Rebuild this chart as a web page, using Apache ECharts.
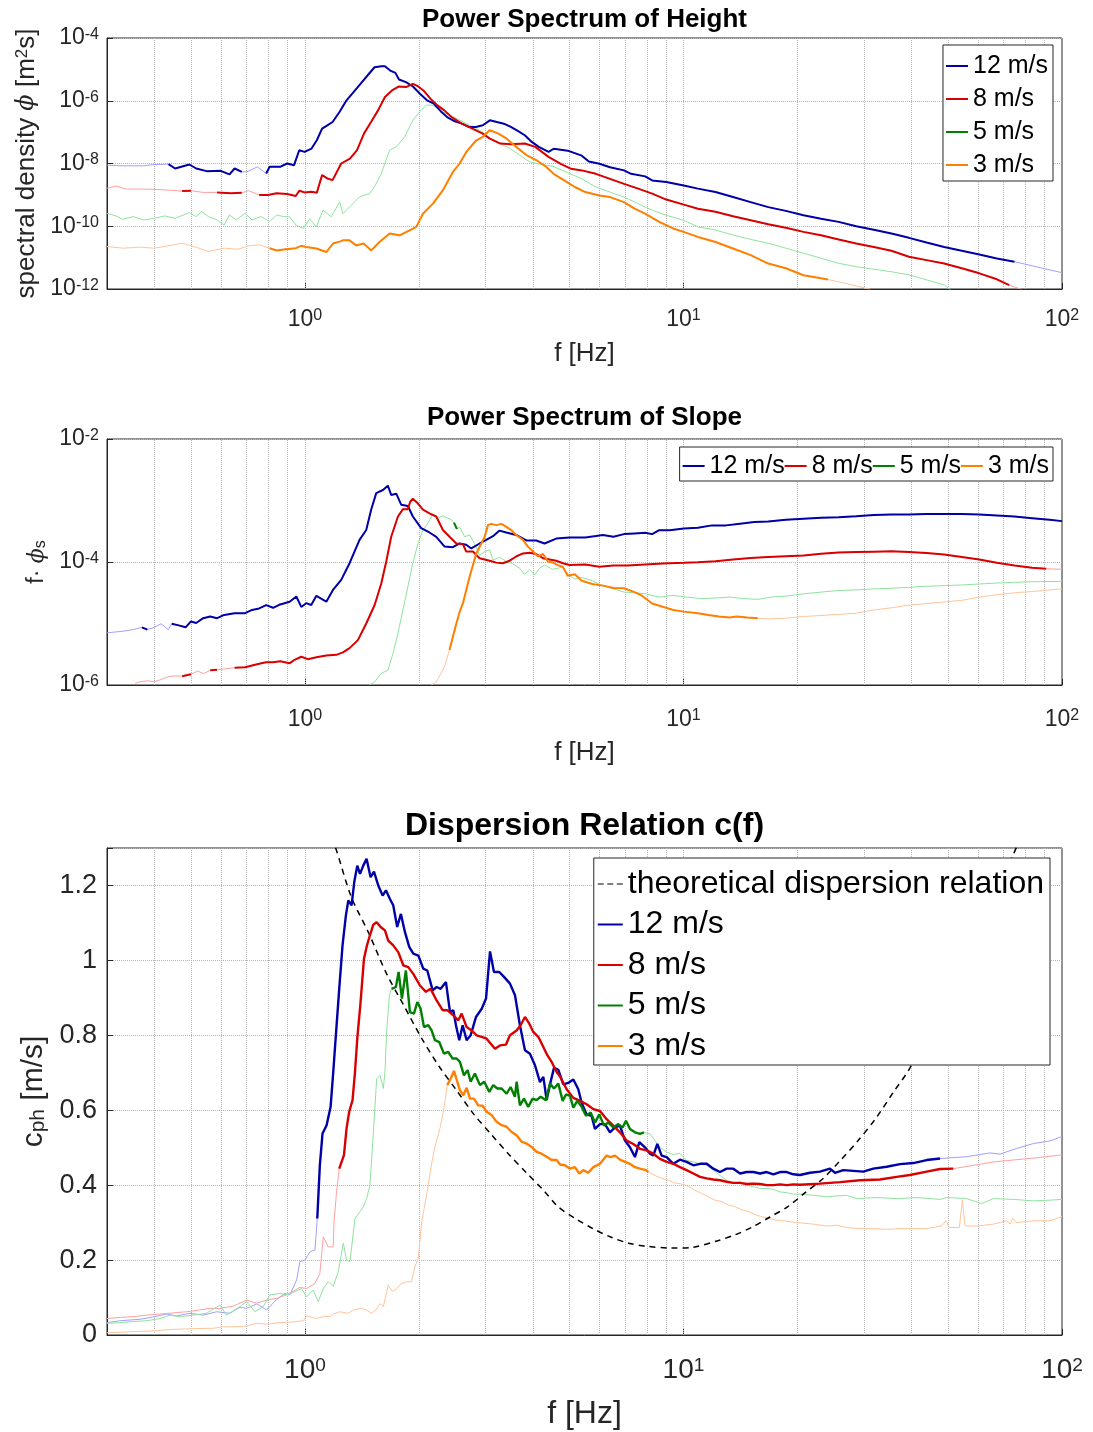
<!DOCTYPE html>
<html>
<head>
<meta charset="UTF-8">
<title>Wave spectra and dispersion relation</title>
<script src="https://cdn.jsdelivr.net/npm/echarts@6/dist/echarts.min.js"></script>
<style>
  html, body { margin: 0; background: #fff; }
  #chart { width: 1093px; height: 1432px; }
</style>
</head>
<body>
<div id="chart"></div>
<script>
// wind speeds shown in all three panels
const speeds = ['12 m/s', '8 m/s', '5 m/s', '3 m/s'];
const theoryName = 'theoretical dispersion relation';

// frequencies of the dotted vertical grid lines (Hz)
const gridFreqs = [0.4, 0.5, 0.6, 0.7, 0.8, 0.9, 1, 2, 3, 4, 5, 6, 7, 8, 9, 10, 20, 30, 40, 50, 60, 70, 80, 90];

// ---- Power spectrum of height: [f (Hz), phi (m^2 s)] ----
const height12 = [[0.300,8.85e-9],[0.330,8.43e-9],[0.375,8.43e-9],[0.400,9.29e-9],[0.436,9.53e-9],[0.454,6.93e-9],[0.495,9.29e-9],[0.516,6.93e-9],[0.550,5.71e-9],[0.599,5.85e-9],[0.632,4.48e-9],[0.652,6.93e-9],[0.681,5.43e-9],[0.703,5.43e-9],[0.749,7.83e-9],[0.790,4.82e-9],[0.807,7.83e-9],[0.860,7.83e-9],[0.897,1.0e-8],[0.936,8.85e-9],[0.966,2.65e-8],[0.998,2.34e-8],[1.041,2.99e-8],[1.075,5.51e-8],[1.110,1.29e-7],[1.146,1.65e-7],[1.183,2.10e-7],[1.234,4.37e-7],[1.288,1.03e-6],[1.344,1.88e-6],[1.402,3.47e-6],[1.463,6.37e-6],[1.527,1.17e-5],[1.593,1.26e-5],[1.627,1.26e-5],[1.680,9.18e-6],[1.734,7.74e-6],[1.772,4.75e-6],[1.849,3.92e-6],[1.929,2.85e-6],[2.013,1.67e-6],[2.101,1.03e-6],[2.192,8.04e-7],[2.287,4.58e-7],[2.387,2.88e-7],[2.489,2.21e-7],[2.598,1.86e-7],[2.711,1.46e-7],[2.828,1.46e-7],[2.951,1.65e-7],[3.080,2.38e-7],[3.213,2.10e-7],[3.353,1.86e-7],[3.499,1.46e-7],[3.650,1.09e-7],[3.809,7.94e-8],[3.975,4.88e-8],[4.147,3.38e-8],[4.402,2.34e-8],[4.541,2.95e-8],[4.946,2.57e-8],[5.387,1.78e-8],[5.623,1.15e-8],[5.997,9.77e-9],[6.396,7.59e-9],[6.966,6.03e-9],[7.270,4.68e-9],[7.920,3.89e-9],[8.266,2.88e-9],[9.005,2.57e-9],[10.02,2.0e-9],[10.92,1.58e-9],[12.15,1.23e-9],[13.52,8.51e-10],[15.05,5.89e-10],[16.75,4.07e-10],[18.64,3.09e-10],[20.75,2.24e-10],[23.09,1.74e-10],[25.70,1.38e-10],[28.60,1.0e-10],[31.83,7.76e-11],[35.42,5.89e-11],[39.42,4.27e-11],[43.87,3.02e-11],[48.83,2.19e-11],[54.34,1.66e-11],[60.48,1.26e-11],[67.30,9.33e-12],[74.90,7.41e-12],[100,3.31e-12]];
const height8 = [[0.300,1.61e-9],[0.3166,1.91e-9],[0.3374,1.53e-9],[0.3674,1.53e-9],[0.400,1.50e-9],[0.4355,1.42e-9],[0.474,1.32e-9],[0.500,1.36e-9],[0.5385,1.20e-9],[0.5864,1.20e-9],[0.6387,1.12e-9],[0.681,1.17e-9],[0.710,1.36e-9],[0.757,9.89e-10],[0.798,9.89e-10],[0.842,1.12e-9],[0.897,1.06e-9],[0.946,9.18e-10],[0.966,1.36e-9],[0.998,1.20e-9],[1.041,1.26e-9],[1.075,1.17e-9],[1.110,4.27e-9],[1.146,3.34e-9],[1.183,2.96e-9],[1.247,1.0e-8],[1.315,1.44e-8],[1.373,2.65e-8],[1.432,8.95e-8],[1.495,2.10e-7],[1.560,4.93e-7],[1.627,1.31e-6],[1.698,2.13e-6],[1.772,2.85e-6],[1.849,2.72e-6],[1.929,3.47e-6],[1.992,2.85e-6],[2.056,2.13e-6],[2.145,1.16e-6],[2.239,7.11e-7],[2.335,4.93e-7],[2.438,3.03e-7],[2.598,1.86e-7],[2.769,1.29e-7],[2.951,8.95e-8],[3.080,6.22e-8],[3.283,4.32e-8],[3.499,4.11e-8],[3.809,4.32e-8],[4.060,3.38e-8],[4.402,1.63e-8],[4.740,9.77e-9],[5.051,6.76e-9],[5.387,6.03e-9],[5.870,4.68e-9],[6.396,3.24e-9],[6.966,2.24e-9],[7.590,1.58e-9],[8.266,1.10e-9],[9.005,7.08e-10],[10.02,4.90e-10],[10.92,3.63e-10],[12.15,2.88e-10],[13.52,2.09e-10],[15.05,1.55e-10],[16.75,1.15e-10],[18.64,8.91e-11],[20.75,6.61e-11],[23.09,5.13e-11],[25.70,3.80e-11],[28.60,2.82e-11],[31.83,2.19e-11],[35.42,1.66e-11],[39.42,1.07e-11],[43.87,8.32e-12],[48.83,6.46e-12],[54.34,4.57e-12],[60.48,3.16e-12],[67.30,2.04e-12],[72.55,1.32e-12],[78.18,9.77e-13]];
const height5 = [[0.300,2.59e-10],[0.3166,2.13e-10],[0.330,1.67e-10],[0.352,2.03e-10],[0.375,1.59e-10],[0.400,1.79e-10],[0.426,2.13e-10],[0.454,1.79e-10],[0.495,2.72e-10],[0.516,2.03e-10],[0.533,2.92e-10],[0.556,2.03e-10],[0.586,1.59e-10],[0.612,1.10e-10],[0.632,2.29e-10],[0.659,1.59e-10],[0.695,2.59e-10],[0.725,1.59e-10],[0.765,2.03e-10],[0.807,1.41e-10],[0.842,2.29e-10],[0.878,2.03e-10],[0.911,2.0e-10],[0.949,1.07e-10],[0.992,8.51e-11],[1.029,1.74e-10],[1.072,9.55e-11],[1.116,3.24e-10],[1.174,2.0e-10],[1.235,6.03e-10],[1.260,2.51e-10],[1.326,4.68e-10],[1.394,8.71e-10],[1.482,1.10e-9],[1.528,1.82e-9],[1.591,4.79e-9],[1.674,2.69e-8],[1.743,3.39e-8],[1.834,7.08e-8],[1.929,2.40e-7],[2.009,4.47e-7],[2.092,7.24e-7],[2.179,7.24e-7],[2.269,5.01e-7],[2.411,3.47e-7],[2.512,2.75e-7],[2.615,2.14e-7],[2.723,1.66e-7],[2.894,1.15e-7],[3.076,6.31e-8],[3.269,4.37e-8],[3.475,3.02e-8],[3.693,1.86e-8],[3.924,1.12e-8],[4.169,9.55e-9],[4.519,8.13e-9],[5.0,4.79e-9],[5.387,3.24e-9],[5.870,1.78e-9],[6.396,1.23e-9],[6.966,8.51e-10],[7.590,5.25e-10],[8.266,3.24e-10],[9.005,2.24e-10],[10.02,1.55e-10],[10.92,9.55e-11],[12.15,7.59e-11],[13.52,5.25e-11],[15.05,3.80e-11],[16.75,2.88e-11],[18.64,2.0e-11],[20.75,1.38e-11],[23.09,9.55e-12],[25.70,6.61e-12],[28.60,5.13e-12],[31.83,4.27e-12],[35.42,3.55e-12],[39.42,2.82e-12],[43.87,1.95e-12],[48.83,1.35e-12],[50.95,8.91e-13]];
const height3 = [[0.300,2.26e-11],[0.330,2.0e-11],[0.367,2.15e-11],[0.400,2.0e-11],[0.4355,2.38e-11],[0.474,2.88e-11],[0.516,2.15e-11],[0.556,1.57e-11],[0.612,2.0e-11],[0.666,1.86e-11],[0.710,2.38e-11],[0.757,2.55e-11],[0.807,2.0e-11],[0.842,1.69e-11],[0.888,1.86e-11],[0.946,2.0e-11],[0.977,2.38e-11],[1.008,2.19e-11],[1.072,1.95e-11],[1.139,1.51e-11],[1.186,2.82e-11],[1.235,3.24e-11],[1.260,3.55e-11],[1.312,3.55e-11],[1.366,2.45e-11],[1.429,2.82e-11],[1.497,1.70e-11],[1.574,3.16e-11],[1.674,5.89e-11],[1.778,5.13e-11],[1.890,7.41e-11],[1.968,9.55e-11],[2.050,2.51e-10],[2.179,5.25e-10],[2.315,1.41e-9],[2.460,5.37e-9],[2.563,1.0e-8],[2.669,2.34e-8],[2.836,5.50e-8],[2.953,7.08e-8],[3.076,1.15e-7],[3.236,9.12e-8],[3.404,6.31e-8],[3.614,3.39e-8],[3.846,1.86e-8],[4.083,1.29e-8],[4.342,7.76e-9],[4.539,4.68e-9],[4.842,2.88e-9],[5.162,1.78e-9],[5.506,1.23e-9],[5.997,9.55e-10],[6.396,8.51e-10],[6.966,5.89e-10],[7.427,3.63e-10],[7.920,2.51e-10],[8.628,1.38e-10],[9.397,8.51e-11],[10.0,6.61e-11],[10.92,4.57e-11],[12.15,3.16e-11],[13.52,1.95e-11],[15.05,1.20e-11],[16.75,6.46e-12],[18.64,4.57e-12],[20.75,2.75e-12],[23.09,2.19e-12],[24.10,2.0e-12],[26.83,1.51e-12],[31.16,9.77e-13]];

// frequency ranges (Hz) where each estimate is drawn as a strong line
const height12Valid = [[0.43, 0.46], [0.49, 0.52], [0.54, 0.70], [0.78, 75]];
const height8Valid = [[0.47, 0.52], [0.58, 0.70], [0.75, 72.6]];
const height5Valid = [];
const height3Valid = [[0.78, 24.2]];

// ---- Power spectrum of slope: [f (Hz), f * phi_s] ----
const slope12 = [[0.300,7.05e-6],[0.330,7.48e-6],[0.352,7.96e-6],[0.371,8.67e-6],[0.3835,7.96e-6],[0.400,8.67e-6],[0.417,9.91e-6],[0.4355,7.96e-6],[0.4448,9.91e-6],[0.464,9.33e-6],[0.484,8.67e-6],[0.500,1.08e-5],[0.516,1.02e-5],[0.5385,1.22e-5],[0.562,1.30e-5],[0.586,1.22e-5],[0.612,1.38e-5],[0.652,1.47e-5],[0.695,1.47e-5],[0.725,1.66e-5],[0.757,1.76e-5],[0.790,1.99e-5],[0.824,1.80e-5],[0.860,2.04e-5],[0.911,2.26e-5],[0.949,2.75e-5],[0.978,1.86e-5],[1.008,2.14e-5],[1.039,2.0e-5],[1.072,2.82e-5],[1.139,2.26e-5],[1.186,3.51e-5],[1.247,5.13e-5],[1.312,9.55e-5],[1.394,2.29e-4],[1.452,3.31e-4],[1.496,7.08e-4],[1.543,1.32e-3],[1.607,1.48e-3],[1.656,1.74e-3],[1.690,1.23e-3],[1.743,1.29e-3],[1.797,8.51e-4],[1.871,8.13e-4],[1.928,5.50e-4],[2.028,3.55e-4],[2.133,3.02e-4],[2.223,2.57e-4],[2.339,1.78e-4],[2.460,1.74e-4],[2.563,2.0e-4],[2.667,1.91e-4],[2.751,1.66e-4],[2.894,2.0e-4],[3.013,2.29e-4],[3.139,2.63e-4],[3.266,3.24e-4],[3.404,3.02e-4],[3.614,2.75e-4],[3.846,2.24e-4],[4.083,2.24e-4],[4.295,2.0e-4],[4.613,2.40e-4],[5.0,2.51e-4],[5.506,2.51e-4],[5.870,2.64e-4],[6.127,2.74e-4],[6.531,2.58e-4],[6.966,2.84e-4],[7.427,2.91e-4],[7.920,2.98e-4],[8.266,2.84e-4],[8.628,3.29e-4],[9.200,3.29e-4],[10.02,3.49e-4],[10.92,3.62e-4],[11.89,3.94e-4],[12.96,3.94e-4],[14.11,4.19e-4],[15.38,4.46e-4],[16.75,4.57e-4],[18.64,4.85e-4],[20.75,5.04e-4],[23.09,5.22e-4],[25.70,5.35e-4],[28.60,5.55e-4],[31.83,5.83e-4],[35.42,5.90e-4],[39.42,5.90e-4],[43.87,6.04e-4],[48.83,6.04e-4],[54.34,6.04e-4],[60.48,5.90e-4],[67.30,5.69e-4],[74.90,5.48e-4],[83.37,5.16e-4],[92.80,4.85e-4],[100,4.62e-4]];
const slope8 = [[0.356,1.06e-6],[0.367,1.13e-6],[0.3835,1.17e-6],[0.400,1.13e-6],[0.417,1.23e-6],[0.4355,1.36e-6],[0.454,1.41e-6],[0.474,1.39e-6],[0.500,1.50e-6],[0.5215,1.69e-6],[0.5385,1.53e-6],[0.562,1.73e-6],[0.586,1.77e-6],[0.6185,1.84e-6],[0.652,1.91e-6],[0.695,1.95e-6],[0.725,2.08e-6],[0.757,2.21e-6],[0.790,2.35e-6],[0.824,2.35e-6],[0.860,2.44e-6],[0.911,2.25e-6],[0.939,2.57e-6],[0.978,2.88e-6],[1.018,2.63e-6],[1.072,2.82e-6],[1.139,3.02e-6],[1.210,3.09e-6],[1.260,3.39e-6],[1.312,3.98e-6],[1.380,5.37e-6],[1.452,1.0e-5],[1.528,2.0e-5],[1.591,4.47e-5],[1.640,1.02e-4],[1.690,2.57e-4],[1.761,5.50e-4],[1.815,7.24e-4],[1.871,7.24e-4],[1.897,9.55e-4],[1.928,1.07e-3],[1.989,8.91e-4],[2.050,7.08e-4],[2.133,6.17e-4],[2.223,5.50e-4],[2.315,3.31e-4],[2.410,2.57e-4],[2.512,2.0e-4],[2.615,1.95e-4],[2.667,1.48e-4],[2.779,1.48e-4],[2.894,1.15e-4],[3.076,1.05e-4],[3.203,9.77e-5],[3.334,9.55e-5],[3.475,1.05e-4],[3.614,1.23e-4],[3.767,1.38e-4],[3.926,1.41e-4],[4.083,1.35e-4],[4.256,1.15e-4],[4.426,1.10e-4],[4.613,1.05e-4],[4.805,9.55e-5],[5.0,8.91e-5],[5.506,9.12e-5],[5.997,8.38e-5],[6.531,8.79e-5],[7.116,8.79e-5],[7.920,9.12e-5],[8.814,9.46e-5],[10.02,9.70e-5],[10.92,9.93e-5],[12.15,1.03e-4],[13.52,1.10e-4],[15.05,1.16e-4],[16.75,1.21e-4],[18.64,1.24e-4],[20.75,1.27e-4],[23.09,1.36e-4],[25.70,1.43e-4],[28.60,1.45e-4],[31.83,1.47e-4],[35.42,1.49e-4],[39.42,1.45e-4],[43.87,1.40e-4],[48.83,1.32e-4],[54.34,1.21e-4],[60.48,1.10e-4],[67.30,9.70e-5],[74.90,8.79e-5],[83.37,8.07e-5],[90.82,7.78e-5],[100,7.60e-5]];
const slope5 = [[1.482,1.0e-6],[1.528,1.12e-6],[1.591,1.55e-6],[1.657,1.74e-6],[1.708,3.24e-6],[1.761,6.92e-6],[1.815,1.66e-5],[1.871,3.98e-5],[1.928,9.55e-5],[1.989,2.0e-4],[2.050,3.31e-4],[2.113,4.27e-4],[2.179,6.03e-4],[2.246,5.13e-4],[2.315,5.62e-4],[2.388,5.13e-4],[2.436,4.9e-4],[2.476,4.37e-4],[2.521,3.44e-4],[2.563,3.72e-4],[2.642,2.57e-4],[2.723,2.75e-4],[2.805,2.0e-4],[2.894,1.29e-4],[2.984,1.48e-4],[3.076,1.58e-4],[3.139,1.07e-4],[3.266,1.20e-4],[3.404,1.02e-4],[3.544,9.33e-5],[3.690,7.94e-5],[3.802,6.31e-5],[3.924,7.41e-5],[4.045,6.17e-5],[4.169,7.94e-5],[4.295,8.91e-5],[4.519,7.59e-5],[4.805,8.32e-5],[4.946,6.32e-5],[5.162,5.27e-5],[5.387,5.60e-5],[5.745,4.95e-5],[6.127,4.13e-5],[6.531,3.66e-5],[6.966,3.24e-5],[7.427,3.16e-5],[7.920,3.04e-5],[8.628,2.69e-5],[9.397,2.86e-5],[10.24,2.69e-5],[11.15,2.54e-5],[12.15,2.60e-5],[13.24,2.69e-5],[14.42,2.54e-5],[15.71,2.47e-5],[17.11,2.69e-5],[18.64,2.79e-5],[20.75,3.04e-5],[23.09,3.24e-5],[25.70,3.44e-5],[28.60,3.52e-5],[31.83,3.66e-5],[35.42,3.74e-5],[39.42,3.88e-5],[43.87,4.03e-5],[48.83,4.13e-5],[54.34,4.23e-5],[60.48,4.39e-5],[67.30,4.55e-5],[74.90,4.67e-5],[83.37,4.78e-5],[100,4.84e-5]];
const slope3 = [[2.157,1.0e-6],[2.223,1.12e-6],[2.339,2.0e-6],[2.410,3.72e-6],[2.460,6.17e-6],[2.512,1.0e-5],[2.563,1.55e-5],[2.615,2.14e-5],[2.667,3.47e-5],[2.723,5.75e-5],[2.779,8.91e-5],[2.836,1.38e-4],[2.924,2.0e-4],[2.984,2.57e-4],[3.045,3.98e-4],[3.107,4.17e-4],[3.203,3.98e-4],[3.302,4.17e-4],[3.404,3.72e-4],[3.508,3.31e-4],[3.614,2.75e-4],[3.767,2.29e-4],[3.882,1.78e-4],[4.004,1.48e-4],[4.128,1.23e-4],[4.255,1.35e-4],[4.385,1.02e-4],[4.519,9.77e-5],[4.656,8.91e-5],[4.805,8.32e-5],[4.946,5.96e-5],[5.162,6.32e-5],[5.387,4.95e-5],[5.745,4.39e-5],[6.127,4.13e-5],[6.531,3.79e-5],[6.966,3.74e-5],[7.427,3.24e-5],[7.752,2.86e-5],[8.266,2.11e-5],[8.814,1.87e-5],[9.397,1.66e-5],[10.02,1.56e-5],[10.92,1.47e-5],[11.64,1.38e-5],[12.41,1.30e-5],[13.24,1.25e-5],[13.82,1.30e-5],[14.73,1.25e-5],[15.71,1.22e-5],[16.75,1.19e-5],[18.64,1.22e-5],[20.75,1.30e-5],[23.09,1.35e-5],[25.70,1.41e-5],[28.60,1.47e-5],[31.83,1.66e-5],[35.42,1.80e-5],[39.42,1.99e-5],[43.87,2.11e-5],[48.83,2.24e-5],[54.34,2.38e-5],[60.48,2.69e-5],[67.30,2.93e-5],[74.90,3.16e-5],[83.37,3.31e-5],[100,3.66e-5]];

const slope12Valid = [[0.37, 0.39], [0.44, 100]];
const slope8Valid = [[0.47, 0.5], [0.55, 0.6], [0.64, 91]];
const slope5Valid = [[2.47, 2.53]];
const slope3Valid = [[2.36, 15.8]];

// ---- Dispersion relation: [f (Hz), c_ph (m/s)] ----
const disp12 = [[0.300,0.033],[0.3244,0.038],[0.3664,0.042],[0.4016,0.049],[0.431,0.056],[0.458,0.051],[0.4968,0.058],[0.5385,0.053],[0.5843,0.062],[0.6339,0.058],[0.6734,0.074],[0.7015,0.071],[0.7454,0.083],[0.7923,0.067],[0.8418,0.095],[0.8856,0.111],[0.9129,0.107],[0.9508,0.147],[0.970,0.196],[1.0,0.20],[1.031,0.222],[1.063,0.227],[1.078,0.311],[1.095,0.453],[1.113,0.538],[1.141,0.560],[1.169,0.609],[1.188,0.702],[1.207,0.800],[1.232,0.924],[1.257,1.040],[1.283,1.12],[1.302,1.16],[1.328,1.147],[1.350,1.209],[1.375,1.253],[1.398,1.231],[1.426,1.253],[1.455,1.271],[1.491,1.222],[1.522,1.237],[1.562,1.2],[1.604,1.173],[1.637,1.187],[1.677,1.164],[1.711,1.147],[1.753,1.089],[1.793,1.124],[1.837,1.076],[1.886,1.036],[1.933,1.018],[1.993,1.013],[2.054,0.978],[2.105,0.973],[2.175,0.920],[2.228,0.929],[2.283,0.924],[2.358,0.942],[2.417,0.862],[2.466,0.867],[2.506,0.827],[2.557,0.787],[2.610,0.827],[2.674,0.787],[2.740,0.800],[2.831,0.849],[2.931,0.871],[3.009,0.898],[3.083,1.024],[3.158,0.969],[3.262,0.969],[3.357,0.956],[3.481,0.938],[3.589,0.907],[3.698,0.827],[3.813,0.760],[3.930,0.751],[4.053,0.72],[4.178,0.675],[4.264,0.689],[4.351,0.627],[4.440,0.669],[4.550,0.713],[4.672,0.708],[4.815,0.669],[4.963,0.673],[5.117,0.682],[5.274,0.656],[5.383,0.620],[5.548,0.589],[5.720,0.585],[5.837,0.550],[6.017,0.563],[6.203,0.563],[6.395,0.541],[6.592,0.554],[6.796,0.559],[7.006,0.519],[7.222,0.501],[7.445,0.475],[7.645,0.515],[7.913,0.501],[8.157,0.484],[8.324,0.479],[8.529,0.510],[8.756,0.479],[9.028,0.475],[9.401,0.457],[9.790,0.468],[10.19,0.462],[10.62,0.453],[11.06,0.457],[11.52,0.457],[11.99,0.444],[12.49,0.435],[13.00,0.444],[13.54,0.444],[14.11,0.431],[14.69,0.435],[15.30,0.435],[15.93,0.431],[16.59,0.435],[17.28,0.429],[17.99,0.435],[18.74,0.435],[19.51,0.429],[20.32,0.427],[21.59,0.433],[22.94,0.436],[24.38,0.444],[25.14,0.433],[26.44,0.44],[28.10,0.438],[29.85,0.436],[31.72,0.444],[34.43,0.449],[37.33,0.456],[40.48,0.459],[43.92,0.467],[47.61,0.471],[56.00,0.476],[64.54,0.486],[68.58,0.483],[75.89,0.498],[84.00,0.511],[92.96,0.518],[100,0.53]];
const disp8 = [[0.300,0.044],[0.3244,0.047],[0.352,0.049],[0.3818,0.053],[0.4139,0.056],[0.4488,0.059],[0.4868,0.062],[0.528,0.067],[0.561,0.071],[0.5961,0.071],[0.6464,0.077],[0.7013,0.093],[0.7453,0.085],[0.7923,0.093],[0.8418,0.098],[0.8944,0.107],[0.970,0.127],[1.010,0.124],[1.063,0.138],[1.095,0.164],[1.118,0.262],[1.152,0.235],[1.188,0.235],[1.193,0.298],[1.212,0.382],[1.232,0.444],[1.268,0.48],[1.288,0.551],[1.309,0.596],[1.336,0.627],[1.356,0.702],[1.375,0.791],[1.403,0.889],[1.432,1.004],[1.455,1.036],[1.485,1.067],[1.515,1.095],[1.547,1.102],[1.585,1.089],[1.627,1.08],[1.660,1.053],[1.711,1.04],[1.764,1.022],[1.819,0.987],[1.875,0.982],[1.933,0.964],[2.013,0.933],[2.088,0.916],[2.148,0.924],[2.228,0.893],[2.311,0.867],[2.377,0.867],[2.466,0.853],[2.542,0.84],[2.594,0.858],[2.674,0.822],[2.756,0.813],[2.842,0.80],[2.930,0.796],[3.020,0.791],[3.177,0.764],[3.275,0.773],[3.396,0.775],[3.480,0.80],[3.624,0.813],[3.713,0.827],[3.813,0.849],[3.915,0.831],[4.011,0.809],[4.135,0.796],[4.264,0.769],[4.368,0.747],[4.485,0.729],[4.623,0.702],[4.718,0.690],[4.914,0.656],[5.117,0.633],[5.329,0.625],[5.549,0.616],[5.779,0.603],[6.017,0.598],[6.266,0.576],[6.525,0.559],[6.796,0.541],[7.077,0.519],[7.369,0.510],[7.676,0.497],[7.993,0.493],[8.324,0.484],[8.667,0.470],[9.028,0.462],[9.401,0.457],[9.790,0.448],[10.19,0.440],[10.62,0.431],[11.06,0.422],[11.52,0.418],[11.99,0.415],[12.49,0.413],[13.00,0.409],[13.54,0.406],[14.11,0.406],[14.69,0.403],[15.30,0.404],[15.93,0.403],[16.59,0.400],[17.28,0.400],[17.99,0.402],[18.74,0.400],[19.51,0.402],[20.32,0.401],[22.94,0.404],[25.91,0.408],[29.27,0.413],[33.04,0.415],[36.57,0.422],[39.66,0.427],[43.92,0.436],[47.61,0.443],[51.63,0.444],[58.33,0.453],[65.88,0.462],[75.89,0.468],[87.48,0.474],[100,0.481]];
const disp5 = [[0.300,0.031],[0.3244,0.033],[0.352,0.036],[0.3818,0.038],[0.4139,0.044],[0.4397,0.053],[0.4673,0.049],[0.507,0.053],[0.5496,0.058],[0.5961,0.08],[0.6209,0.053],[0.6734,0.076],[0.7015,0.089],[0.7379,0.062],[0.7762,0.076],[0.8083,0.107],[0.859,0.111],[0.9036,0.107],[0.9410,0.116],[0.980,0.124],[1.010,0.102],[1.052,0.12],[1.084,0.089],[1.118,0.124],[1.152,0.142],[1.188,0.13],[1.225,0.169],[1.263,0.245],[1.288,0.20],[1.315,0.196],[1.356,0.311],[1.398,0.329],[1.426,0.342],[1.455,0.364],[1.485,0.40],[1.515,0.533],[1.547,0.684],[1.579,0.693],[1.611,0.658],[1.627,0.702],[1.644,0.809],[1.671,0.907],[1.694,0.924],[1.739,0.929],[1.768,0.969],[1.804,0.898],[1.848,0.973],[1.894,0.862],[1.941,0.858],[1.981,0.889],[2.021,0.871],[2.063,0.822],[2.117,0.827],[2.161,0.813],[2.205,0.787],[2.264,0.782],[2.329,0.751],[2.391,0.756],[2.455,0.738],[2.516,0.738],[2.567,0.729],[2.631,0.693],[2.690,0.707],[2.740,0.676],[2.812,0.698],[2.900,0.667],[2.977,0.676],[3.069,0.649],[3.145,0.667],[3.222,0.658],[3.308,0.658],[3.410,0.644],[3.494,0.662],[3.587,0.636],[3.624,0.676],[3.698,0.613],[3.790,0.631],[3.890,0.609],[3.995,0.631],[4.093,0.627],[4.194,0.636],[4.333,0.627],[4.440,0.671],[4.550,0.658],[4.671,0.671],[4.796,0.625],[4.894,0.642],[5.015,0.638],[5.117,0.607],[5.243,0.625],[5.383,0.609],[5.527,0.585],[5.686,0.594],[5.837,0.567],[5.994,0.589],[6.166,0.559],[6.331,0.567],[6.525,0.554],[6.727,0.563],[6.906,0.554],[7.049,0.572],[7.222,0.55],[7.445,0.541],[7.676,0.537],[7.864,0.541],[8.157,0.537],[8.409,0.519],[8.667,0.501],[9.028,0.488],[9.401,0.482],[9.790,0.485],[10.19,0.466],[10.62,0.462],[11.06,0.457],[11.52,0.453],[11.99,0.440],[12.49,0.426],[13.00,0.413],[13.54,0.404],[14.11,0.409],[14.69,0.40],[15.30,0.396],[15.93,0.391],[16.59,0.391],[17.28,0.389],[17.99,0.382],[18.74,0.380],[19.51,0.376],[20.32,0.376],[22.03,0.373],[23.89,0.369],[26.98,0.373],[28.67,0.364],[32.38,0.367],[36.57,0.364],[41.30,0.367],[47.61,0.362],[49.58,0.367],[55.98,0.364],[61.34,0.351],[65.88,0.364],[74.37,0.362],[84.00,0.358],[92.96,0.36],[100,0.362]];
const disp3 = [[0.300,0.006],[0.352,0.009],[0.3975,0.011],[0.4488,0.015],[0.507,0.017],[0.5727,0.018],[0.6083,0.022],[0.6464,0.022],[0.7015,0.024],[0.7453,0.031],[0.7923,0.029],[0.859,0.033],[0.9316,0.035],[0.990,0.038],[1.010,0.051],[1.073,0.044],[1.118,0.049],[1.164,0.049],[1.188,0.056],[1.237,0.062],[1.302,0.058],[1.342,0.067],[1.411,0.071],[1.455,0.067],[1.500,0.058],[1.540,0.067],[1.579,0.084],[1.611,0.076],[1.660,0.133],[1.704,0.116],[1.746,0.124],[1.800,0.138],[1.856,0.142],[1.913,0.142],[1.952,0.182],[1.993,0.204],[2.034,0.302],[2.096,0.373],[2.161,0.458],[2.205,0.502],[2.273,0.551],[2.329,0.604],[2.377,0.667],[2.426,0.684],[2.476,0.705],[2.527,0.676],[2.568,0.653],[2.620,0.64],[2.674,0.66],[2.729,0.631],[2.796,0.631],[2.870,0.613],[2.947,0.612],[3.020,0.596],[3.113,0.587],[3.209,0.569],[3.308,0.56],[3.410,0.556],[3.516,0.542],[3.624,0.533],[3.736,0.516],[3.851,0.511],[3.970,0.502],[4.093,0.489],[4.220,0.484],[4.351,0.476],[4.485,0.467],[4.623,0.467],[4.718,0.455],[4.864,0.453],[5.013,0.444],[5.168,0.448],[5.305,0.431],[5.437,0.440],[5.604,0.433],[5.779,0.448],[6.017,0.457],[6.266,0.479],[6.422,0.475],[6.592,0.479],[6.796,0.468],[7.006,0.462],[7.222,0.457],[7.445,0.448],[7.676,0.444],[7.961,0.440],[8.075,0.435],[8.409,0.426],[8.756,0.418],[9.120,0.413],[9.497,0.406],[9.890,0.403],[10.30,0.397],[10.72,0.387],[11.17,0.378],[11.63,0.369],[12.12,0.360],[12.62,0.356],[13.14,0.347],[13.68,0.343],[14.25,0.334],[14.84,0.330],[15.45,0.321],[16.09,0.316],[16.76,0.312],[17.45,0.307],[18.17,0.306],[18.92,0.303],[19.70,0.300],[20.52,0.299],[22.03,0.296],[23.89,0.291],[25.39,0.293],[26.98,0.287],[29.27,0.284],[31.73,0.284],[34.42,0.282],[37.32,0.284],[40.48,0.284],[43.90,0.284],[48.10,0.291],[49.38,0.305],[50.40,0.287],[53.56,0.287],[54.55,0.36],[55.45,0.291],[59.53,0.291],[65.88,0.296],[71.42,0.305],[72.88,0.296],[74.08,0.311],[75.89,0.30],[84.00,0.305],[92.96,0.305],[100,0.316]];
const dispTheory = [[1.166,1.326],[1.204,1.301],[1.325,1.170],[1.474,1.073],[1.640,0.966],[1.824,0.880],[2.029,0.794],[2.258,0.718],[2.512,0.654],[2.795,0.589],[3.109,0.535],[3.459,0.482],[3.848,0.433],[4.280,0.385],[4.67,0.342],[5.20,0.310],[5.79,0.283],[6.44,0.261],[7.17,0.245],[7.98,0.237],[9.28,0.232],[10.55,0.234],[12.26,0.251],[13.65,0.267],[15.19,0.288],[16.92,0.315],[18.83,0.342],[20.96,0.380],[23.34,0.417],[25.98,0.466],[28.93,0.519],[32.20,0.578],[35.85,0.648],[39.91,0.718],[74.4,1.283],[76.7,1.315]];

const disp12Valid = [[1.075, 48]];
const disp8Valid = [[1.23, 52]];
const disp5Valid = [[1.69, 7.9]];
const disp3Valid = [[2.37, 8.1]];

// ---- styling ----
const FONT = "'Liberation Sans', Arial, sans-serif";
const INK = '#262626';
const darkColors = ['#0000a8', '#d90000', '#008000', '#ff8000'];
const lightColors = ['#a0a0ff', '#ffa0a0', '#8fe39f', '#ffc49a'];
const dashIcon = 'path://M0,0h5v1h-5z M8,0h5v1h-5z M16,0h5v1h-5z';

function insideRanges(data, ranges) {
    return data.map(p => ranges.some(r => p[0] >= r[0] && p[0] <= r[1]) ? p : [p[0], '-']);
}

function powerLabel(v) {
    const e = Math.log10(v);
    const r = Math.round(e);
    if (Math.abs(e - r) > 1e-6) return '';
    return '{b|10}{s|' + r + '}';
}

function speedSeries(g, curves, ranges, width) {
    const out = [];
    curves.forEach((data, k) => {
        out.push({
            type: 'line', name: speeds[k], xAxisIndex: g, yAxisIndex: g,
            data: insideRanges(data, ranges[k]), symbol: 'none', z: 4,
            lineStyle: { color: darkColors[k], width: width },
            itemStyle: { color: darkColors[k] }
        });
        out.push({
            type: 'line', name: speeds[k], xAxisIndex: g, yAxisIndex: g,
            data: data, symbol: 'none', z: 2,
            lineStyle: { color: lightColors[k], width: 1 },
            itemStyle: { color: lightColors[k] }
        });
    });
    return out;
}

function gridLineSeries(g) {
    return {
        type: 'line', xAxisIndex: g, yAxisIndex: g, data: [], silent: true,
        markLine: {
            silent: true, symbol: 'none', z: 1, animation: false,
            label: { show: false },
            lineStyle: { color: '#b4b4b4', type: 'dotted', width: 1 },
            data: gridFreqs.map(f => ({ xAxis: f }))
        }
    };
}

function xAxisFor(g, size, nameSize, nameGap, margin) {
    return {
        type: 'log', logBase: 10, gridIndex: g, min: 0.3, max: 100,
        name: 'f [Hz]', nameLocation: 'middle', nameGap: nameGap,
        nameTextStyle: { fontSize: nameSize, color: INK, fontFamily: FONT },
        axisLine: { lineStyle: { color: INK } },
        axisTick: { inside: true, length: 6, lineStyle: { color: INK } },
        splitLine: { show: false },
        axisLabel: {
            margin: margin, color: INK, fontSize: size, showMinLabel: false, formatter: powerLabel,
            rich: { b: { fontSize: size, fontFamily: FONT }, s: { fontSize: Math.round(size * 0.68), verticalAlign: 'top', fontFamily: FONT } }
        }
    };
}

function legendData(withTheory) {
    const items = withTheory ? [{ name: theoryName, icon: dashIcon, itemStyle: { color: '#000' } }] : [];
    speeds.forEach((s, k) => items.push({ name: s, icon: 'rect', itemStyle: { color: darkColors[k] } }));
    return items;
}

const legendBox = { backgroundColor: '#fff', borderColor: INK, borderWidth: 1, selectedMode: false };
const splitDotted = { show: true, lineStyle: { color: '#b4b4b4', type: 'dotted', width: 1 } };

const chart = echarts.init(document.getElementById('chart'));

const option = {
    animation: false,
    backgroundColor: '#fff',
    textStyle: { fontFamily: FONT },
    title: [
        { text: 'Power Spectrum of Height', left: 584.5, top: 7, textAlign: 'center', padding: 0,
          textStyle: { fontSize: 26, fontWeight: 'bold', color: '#000', fontFamily: FONT } },
        { text: 'Power Spectrum of Slope', left: 584.5, top: 405, textAlign: 'center', padding: 0,
          textStyle: { fontSize: 26, fontWeight: 'bold', color: '#000', fontFamily: FONT } },
        { text: 'Dispersion Relation c(f)', left: 584.5, top: 810, textAlign: 'center', padding: 0,
          textStyle: { fontSize: 32, fontWeight: 'bold', color: '#000', fontFamily: FONT } }
    ],
    legend: [
        Object.assign({}, legendBox, {
            orient: 'vertical', right: 40, top: 45, padding: [7, 5, 2, 3], itemGap: 5,
            itemWidth: 22, itemHeight: 2,
            textStyle: { fontSize: 25, color: '#000', lineHeight: 28, fontFamily: FONT },
            data: legendData(false)
        }),
        Object.assign({}, legendBox, {
            orient: 'horizontal', right: 40, top: 447, padding: [5, 4, 1, 3], itemGap: 0,
            itemWidth: 22, itemHeight: 2,
            textStyle: { fontSize: 25, color: '#000', lineHeight: 28, fontFamily: FONT },
            data: legendData(false)
        }),
        Object.assign({}, legendBox, {
            orient: 'vertical', right: 43, top: 858, padding: [9, 6, 2, 4], itemGap: 6.5,
            itemWidth: 25, itemHeight: 2,
            textStyle: { fontSize: 32, color: '#000', lineHeight: 34, fontFamily: FONT },
            data: legendData(true)
        })
    ],
    grid: [
        { left: 107, right: 31, top: 38, height: 251, show: true, borderColor: INK, borderWidth: 1, backgroundColor: '#fff' },
        { left: 107, right: 31, top: 439, height: 246, show: true, borderColor: INK, borderWidth: 1, backgroundColor: '#fff' },
        { left: 107, right: 31, top: 848, height: 487, show: true, borderColor: INK, borderWidth: 1, backgroundColor: '#fff' }
    ],
    xAxis: [
        xAxisFor(0, 23, 26, 52, 19),
        xAxisFor(1, 23, 26, 55, 23),
        xAxisFor(2, 28, 32, 63, 21)
    ],
    yAxis: [
        {
            type: 'log', logBase: 10, gridIndex: 0, min: 1e-12, max: 1e-4, interval: 2,
            name: 'spectral density {i|ϕ} [m{sup|2}s]', nameLocation: 'middle', nameGap: 61,
            nameTextStyle: { fontSize: 26, color: INK, fontFamily: FONT,
                rich: { i: { fontStyle: 'italic', fontFamily: 'DejaVu Serif', fontSize: 24 }, sup: { fontSize: 17, verticalAlign: 'top' } } },
            axisLine: { lineStyle: { color: INK } },
            axisTick: { inside: true, length: 6, lineStyle: { color: INK } },
            splitLine: splitDotted,
            axisLabel: { margin: 8, color: INK, fontSize: 23, formatter: powerLabel,
                rich: { b: { fontSize: 23, fontFamily: FONT }, s: { fontSize: 16, verticalAlign: 'top', fontFamily: FONT } } }
        },
        {
            type: 'log', logBase: 10, gridIndex: 1, min: 1e-6, max: 1e-2, interval: 2,
            name: 'f· {i|ϕ}{sub|s}', nameLocation: 'middle', nameGap: 58,
            nameTextStyle: { fontSize: 23, color: INK, fontFamily: FONT,
                rich: { i: { fontStyle: 'italic', fontFamily: 'DejaVu Serif', fontSize: 22 }, sub: { fontSize: 16, verticalAlign: 'bottom' } } },
            axisLine: { lineStyle: { color: INK } },
            axisTick: { inside: true, length: 6, lineStyle: { color: INK } },
            splitLine: splitDotted,
            axisLabel: { margin: 8, color: INK, fontSize: 23, formatter: powerLabel,
                rich: { b: { fontSize: 23, fontFamily: FONT }, s: { fontSize: 16, verticalAlign: 'top', fontFamily: FONT } } }
        },
        {
            type: 'value', gridIndex: 2, min: 0, max: 1.3, interval: 0.2,
            name: 'c{sub|ph} [m/s]', nameLocation: 'middle', nameGap: 52,
            nameTextStyle: { fontSize: 30, color: INK, fontFamily: FONT,
                rich: { sub: { fontSize: 21, verticalAlign: 'bottom' } } },
            axisLine: { lineStyle: { color: INK } },
            axisTick: { inside: true, length: 6, lineStyle: { color: INK } },
            splitLine: splitDotted,
            axisLabel: { margin: 10, color: INK, fontSize: 27,
                formatter: v => Math.abs(v / 0.2 - Math.round(v / 0.2)) < 1e-6 ? String(+v.toFixed(1)) : '' }
        }
    ],
    series: [].concat(
        [gridLineSeries(0), gridLineSeries(1), gridLineSeries(2)],
        speedSeries(0, [height12, height8, height5, height3], [height12Valid, height8Valid, height5Valid, height3Valid], 2),
        speedSeries(1, [slope12, slope8, slope5, slope3], [slope12Valid, slope8Valid, slope5Valid, slope3Valid], 2),
        [{
            type: 'line', name: theoryName, xAxisIndex: 2, yAxisIndex: 2, data: dispTheory,
            symbol: 'none', z: 3, smooth: 0.3,
            lineStyle: { color: '#000', width: 1.5, type: [6, 5] }, itemStyle: { color: '#000' }
        }],
        speedSeries(2, [disp12, disp8, disp5, disp3], [disp12Valid, disp8Valid, disp5Valid, disp3Valid], 2.4)
    )
};

chart.setOption(option);
</script>
</body>
</html>
